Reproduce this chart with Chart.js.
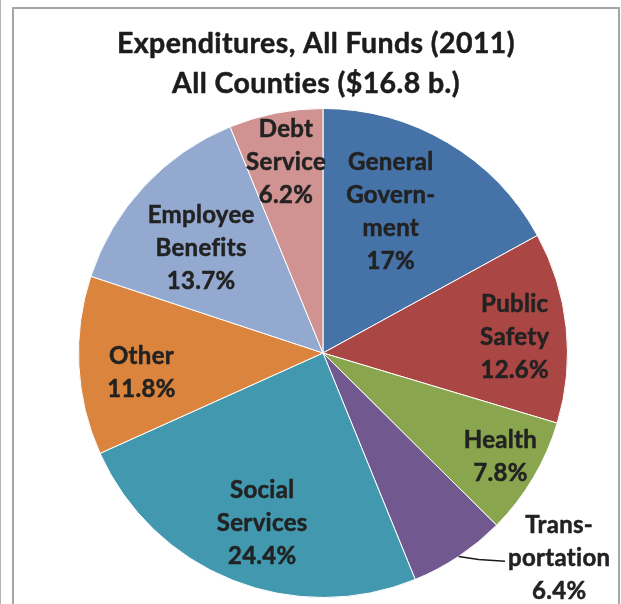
<!DOCTYPE html>
<html>
<head>
<meta charset="utf-8">
<script src="https://cdn.jsdelivr.net/npm/chart.js@4/dist/chart.umd.min.js"></script>
<style>
  html, body { margin: 0; padding: 0; background: #fff; }
  #wrap { position: relative; width: 621px; height: 604px; overflow: hidden; }
  #edge { position: absolute; left: 0; top: 0; width: 1px; height: 604px; background: #b4b4b4; }
  #frame { position: absolute; left: 12px; top: 7px; width: 604px; height: 640px; border: 2px solid #a6a6a6; }
  canvas { position: absolute; left: 0; top: 0; }
</style>
</head>
<body>
<div id="wrap">
  <div id="edge"></div>
  <div id="frame"></div>
  <canvas id="c" width="621" height="604"></canvas>
</div>
<script>
// ---- data ----
const titleLines = ['Expenditures, All Funds (2011)', 'All Counties ($16.8 b.)'];
const categories = ['General Government', 'Public Safety', 'Health', 'Transportation',
                    'Social Services', 'Other', 'Employee Benefits', 'Debt Service'];
const labelLines = [['General', 'Govern-', 'ment'], ['Public', 'Safety'], ['Health'], ['Trans-', 'portation'],
                    ['Social', 'Services'], ['Other'], ['Employee', 'Benefits'], ['Debt', 'Service']];
const percents = [17, 12.6, 7.8, 6.4, 24.4, 11.8, 13.7, 6.2];
const percentText = ['17%', '12.6%', '7.8%', '6.4%', '24.4%', '11.8%', '13.7%', '6.2%'];
const colors = ['#4572A7', '#AA4643', '#89A54E', '#71588F', '#4198AF', '#DB843D', '#93A9CF', '#D19392'];

// label placement (fraction of radius, angle offset from slice middle in degrees)
const labelPlace = [
  { f: 0.639, da: -4.9 }, { f: 0.787, da: 1.2 }, { f: 0.841, da: -0.4 }, { f: 1.28, da: -15.3, leader: true },
  { f: 0.741, da: -2.2 }, { f: 0.747, da: -3.3 }, { f: 0.657, da: -2.3 }, { f: 0.794, da: 0.2 }
];

const FONT = 'Lato';
function boldText(ctx, t, x, y, color) {
  ctx.fillStyle = color;
  ctx.strokeStyle = color;
  ctx.lineWidth = 0.5;
  ctx.lineJoin = 'round';
  ctx.fillText(t, x, y);
  ctx.strokeText(t, x, y);
}
const labelPlugin = {
  id: 'labelPlugin',
  afterDraw(chart) {
    const ctx = chart.ctx;
    ctx.save();
    // title
    ctx.textAlign = 'center';
    ctx.textBaseline = 'alphabetic';
    ctx.font = 'bold 28.5px ' + FONT;
    if ('letterSpacing' in ctx) ctx.letterSpacing = '0.4px';
    boldText(ctx, titleLines[0], 316, 53, '#1c1c1c');
    boldText(ctx, titleLines[1], 316, 93, '#1c1c1c');

    const meta = chart.getDatasetMeta(0);
    const lh = 33;
    ctx.font = 'bold 24px ' + FONT;
    if ('letterSpacing' in ctx) ctx.letterSpacing = '0.3px';
    meta.data.forEach((arc, i) => {
      const cx = arc.x, cy = arc.y, R = arc.outerRadius;
      const mid = (arc.startAngle + arc.endAngle) / 2;
      const p = labelPlace[i];
      const a = mid + p.da * Math.PI / 180;
      const lx = cx + Math.cos(a) * R * p.f;
      const ly = cy + Math.sin(a) * R * p.f;
      const lines = labelLines[i].concat([percentText[i]]);
      const top = ly - (lines.length - 1) * lh / 2;
      ctx.textAlign = 'center';
      ctx.textBaseline = 'middle';
      lines.forEach((t, k) => boldText(ctx, t, lx, top + k * lh, '#222222'));
      if (p.leader) {
        let w = 0;
        lines.forEach(t => { w = Math.max(w, ctx.measureText(t).width); });
        const sx = cx + Math.cos(mid) * R, sy = cy + Math.sin(mid) * R;
        ctx.strokeStyle = '#1a1a1a';
        ctx.lineWidth = 1.5;
        ctx.beginPath();
        ctx.moveTo(sx, sy);
        ctx.lineTo(sx + 20, sy + 3);
        ctx.lineTo(lx - w / 2 - 3, ly + 3);
        ctx.stroke();
      }
    });
    ctx.restore();
  }
};

new Chart(document.getElementById('c'), {
  type: 'pie',
  data: {
    labels: categories,
    datasets: [{
      data: percents,
      backgroundColor: colors,
      borderColor: '#ffffff',
      borderWidth: 1
    }]
  },
  options: {
    responsive: false,
    animation: false,
    layout: { padding: { left: 78, right: 53, top: 107, bottom: 5 } },
    plugins: {
      legend: { display: false },
      tooltip: { enabled: false },
      title: { display: false }
    }
  },
  plugins: [labelPlugin]
});
</script>
</body>
</html>
